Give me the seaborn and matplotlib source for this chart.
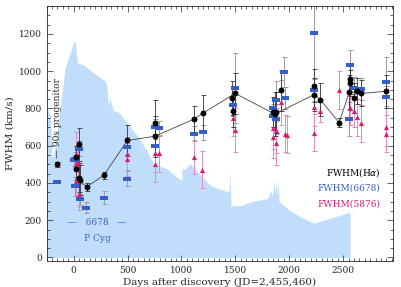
import numpy as np
import pandas as pd
import matplotlib
matplotlib.use("Agg")
import matplotlib.pyplot as plt
import seaborn as sns
from matplotlib.ticker import MultipleLocator

# H-alpha FWHM (black circles)
ha_day = [-150, 20, 23, 48, 51, 55, 122, 280, 499, 756, 756, 1121, 1198, 1467, 1476, 1498,
          1848, 1865, 1878, 1922, 2231, 2231, 2287, 2463, 2556, 2565, 2565, 2605, 2627, 2667, 2896]
ha_fwhm = [500, 539, 477, 607, 429, 415, 379, 441, 628, 721, 651, 744, 774, 855, 789, 881,
           780, 770, 780, 899, 922, 874, 848, 724, 887, 958, 935, 857, 896, 881, 892]
ha_err = [15, 60, 60, 90, 80, 80, 20, 20, 85, 125, 110, 70, 100, 90, 90, 110,
          80, 120, 110, 110, 90, 90, 90, 25, 90, 80, 70, 80, 70, 70, 90]

# points joined by the thin line
line_day = [51, 122, 280, 499, 756, 1121, 1198, 1498, 1865, 2231, 2287, 2463, 2556, 2667, 2896]
line_fwhm = [415, 379, 441, 628, 651, 744, 774, 881, 770, 874, 848, 724, 887, 881, 892]

# He I 6678 FWHM (blue bars)
b_day = [-150, 5, 14, 48, 14, 55, 119, 280, 499, 499, 756, 756, 796, 1121, 1198, 1476, 1498,
         1848, 1848, 1878, 1878, 1953, 1962, 2231, 2231, 2556, 2565, 2605, 2667, 2896, 2896]
b_fwhm = [407, 521, 527, 584, 382, 313, 268, 320, 593, 423, 703, 596, 694, 664, 673, 821, 910,
          803, 762, 846, 744, 995, 857, 1207, 899, 744, 1033, 910, 905, 944, 860]
b_err = [0, 30, 40, 40, 50, 30, 30, 35, 40, 40, 40, 40, 40, 40, 40, 60, 190,
         60, 60, 100, 80, 80, 60, 300, 60, 90, 80, 60, 60, 130, 60]

# He I 5876 FWHM (magenta triangles)
m_day = [-150, 23, 20, 45, 23, 48, 51, 499, 499, 756, 756, 796, 1121, 1195, 1476, 1498,
         1848, 1848, 1878, 1878, 1922, 1962, 1975, 2231, 2231, 2287, 2463, 2560, 2605, 2627, 2667, 2896, 2896]
m_fwhm = [495, 553, 504, 512, 409, 343, 325, 557, 527, 560, 504, 560, 540, 472, 750, 685,
          694, 646, 682, 614, 833, 664, 659, 806, 669, 789, 899, 803, 789, 753, 721, 700, 664]
m_err = [10, 120, 100, 110, 80, 70, 70, 90, 90, 100, 100, 100, 90, 100, 100, 120,
         110, 110, 120, 120, 120, 100, 100, 100, 100, 60, 100, 90, 90, 100, 100, 100, 100]

# 6678 P Cyg velocity envelope (shaded)
fill_day = [-250, -215, -200, -172, -120, -79, -30, -2, 14, 35, 60, 107, 122, 200, 276, 292, 308,
            315, 323, 335, 369, 416, 500, 601, 679, 740, 800, 865, 957, 1004, 1006, 1030, 1081,
            1173, 1266, 1300, 1440, 1450, 1460, 1475, 1550, 1650, 1800, 1830, 1840, 1860, 1870,
            1880, 1890, 1900, 1905, 1920, 2000, 2100, 2200, 2230, 2520, 2550, 2565]
fill_vel = [800, 761, 530, 590, 820, 1019, 1100, 1154, 1163, 1047, 1040, 1029, 1020, 985, 954, 949, 913,
            870, 806, 860, 789, 780, 720, 646, 575, 504, 490, 477, 432, 414, 480, 470, 504,
            446, 388, 380, 350, 460, 272, 280, 277, 300, 317, 361, 330, 400, 340,
            414, 330, 420, 298, 295, 254, 220, 191, 185, 235, 245, 227]

BLUE = "#3560cc"
MAG = "#d81b7a"
FILL = "#c0defc"

ha = pd.DataFrame({"day": ha_day, "fwhm": ha_fwhm, "err": ha_err})
hb = pd.DataFrame({"day": b_day, "fwhm": b_fwhm, "err": b_err})
hm = pd.DataFrame({"day": m_day, "fwhm": m_fwhm, "err": m_err})
ln = pd.DataFrame({"day": line_day, "fwhm": line_fwhm})

sns.set_style("ticks")
plt.rcParams["font.family"] = ["DejaVu Serif"]

fig, ax = plt.subplots(figsize=(4.02, 2.87), dpi=100)
fig.subplots_adjust(left=0.116, right=0.977, bottom=0.09, top=0.979)

ax.fill_between(fill_day, 0, fill_vel, color=FILL, lw=0, zorder=0)

ax.errorbar(hm.day, hm.fwhm, yerr=hm.err, fmt="none", ecolor="#e48bb8", elinewidth=0.7,
            capsize=1.8, capthick=0.7, zorder=2)
ax.errorbar(hb.day, hb.fwhm, yerr=hb.err, fmt="none", ecolor="#9a9a9a", elinewidth=0.7,
            capsize=1.8, capthick=0.7, zorder=2)
ax.errorbar(ha.day, ha.fwhm, yerr=ha.err, fmt="none", ecolor="#333333", elinewidth=0.6,
            capsize=1.8, capthick=0.6, zorder=3)

sns.lineplot(data=ln, x="day", y="fwhm", sort=False, estimator=None, color="#444444",
             lw=0.6, ax=ax, zorder=3)

rect = [(-1.6, -0.65), (1.6, -0.65), (1.6, 0.65), (-1.6, 0.65), (-1.6, -0.65)]
sns.scatterplot(data=hm, x="day", y="fwhm", marker="^", s=14, color=MAG, edgecolor=MAG,
                linewidth=0, ax=ax, zorder=4)
sns.scatterplot(data=hb, x="day", y="fwhm", marker=rect, s=30, color=BLUE, edgecolor=BLUE,
                linewidth=0, ax=ax, zorder=4)
sns.scatterplot(data=ha, x="day", y="fwhm", marker="o", s=18, color="black", edgecolor="black",
                linewidth=0, ax=ax, zorder=5)

ax.set_xlim(-250, 2960)
ax.set_ylim(-20, 1350)
ax.set_xticks([0, 500, 1000, 1500, 2000, 2500])
ax.set_yticks([0, 200, 400, 600, 800, 1000, 1200])
ax.xaxis.set_minor_locator(MultipleLocator(50))
ax.yaxis.set_minor_locator(MultipleLocator(50))
ax.tick_params(which="both", direction="in", top=True, right=True, labelsize=6.5, width=0.5)
ax.tick_params(which="major", length=4)
ax.tick_params(which="minor", length=2)
for s in ax.spines.values():
    s.set_linewidth(0.6)

ax.set_xlabel("Days after discovery (JD=2,455,460)", fontsize=7.5, labelpad=2)
ax.set_ylabel("FWHM (km/s)", fontsize=7.5, labelpad=3)

ax.text(-150, 750, "— 90s progenitor", rotation=90, fontsize=6.5, ha="center", va="center")
ax.text(218, 190, "—   6678   —", color=BLUE, fontsize=6.5, ha="center", va="center")
ax.text(223, 104, "P Cyg", color=BLUE, fontsize=6.5, ha="center", va="center")
ax.text(2846, 457, "FWHM(H$\\alpha$)", color="black", fontsize=6.5, ha="right", va="center")
ax.text(2846, 371, "FWHM(6678)", color=BLUE, fontsize=6.5, ha="right", va="center")
ax.text(2846, 286, "FWHM(5876)", color=MAG, fontsize=6.5, ha="right", va="center")

fig.savefig("out.png", dpi=100)
